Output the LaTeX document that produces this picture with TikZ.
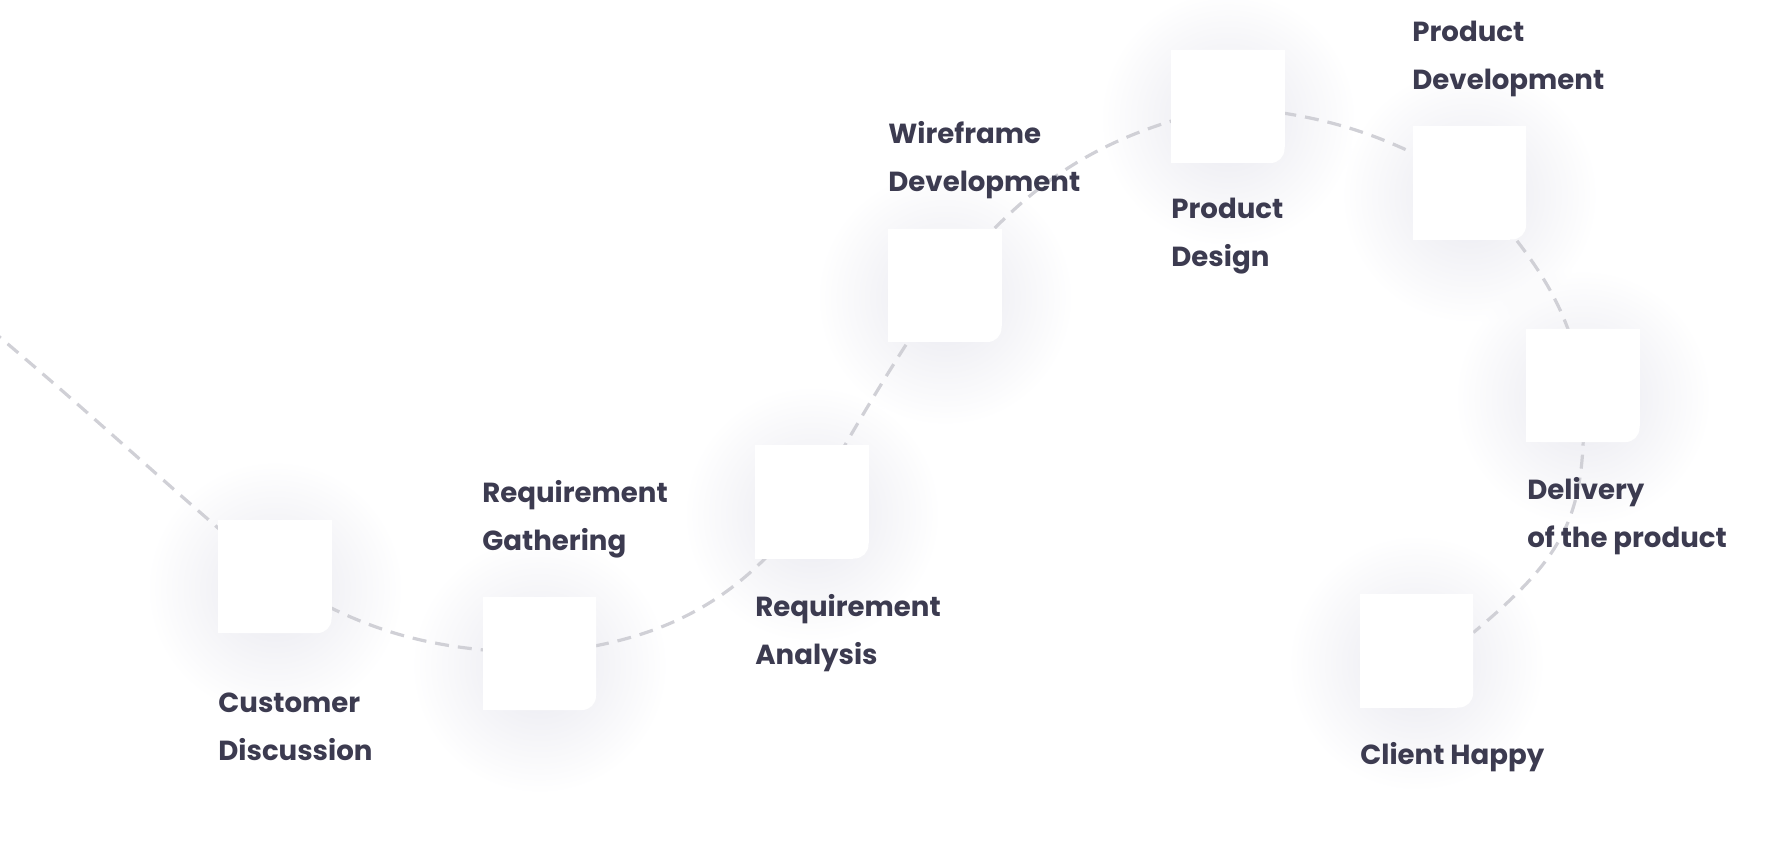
\documentclass[tikz,border=0pt]{standalone}
\usepackage{fontspec}
\setmainfont{Poppins}
\usetikzlibrary{fadings}
\definecolor{inkc}{RGB}{60,59,80}
\definecolor{trailc}{RGB}{208,208,214}
\definecolor{glowc}{RGB}{232,232,239}
\tikzfading[name=glowfade, inner color=transparent!0, outer color=transparent!100]
\pgfdeclarelayer{glowlayer}
\pgfdeclarelayer{traillayer}
\pgfsetlayers{glowlayer,traillayer,main}

\begin{document}
\begin{tikzpicture}[x=0.5pt, y=0.5pt,
		stepbox/.style={rectangle, fill=white, rounded corners=7pt, minimum size=56.5pt, inner sep=0pt},
		lbl/.style={font=\bfseries\fontsize{13.8}{24}\selectfont, text=inkc, align=left, inner sep=0pt, anchor=base west},
		trailline/.style={draw=trailc, line width=1.6pt, dash pattern=on 7pt off 4.5pt}]
		\useasboundingbox (0,0) rectangle (1789,-866);
		\coordinate (start) at (-10,-329);
		\node[stepbox] (cust) at (275,-576.5) {};
		\node[stepbox] (gath) at (539.5,-653.5) {};
		\node[stepbox] (anal) at (812,-502) {};
		\node[stepbox] (wire) at (945,-285.5) {};
		\node[stepbox] (desg) at (1228,-106.5) {};
		\node[stepbox] (pdev) at (1469.5,-183) {};
		\node[stepbox] (deli) at (1583,-385.5) {};
		\node[stepbox] (happy) at (1416.5,-651) {};
		% only the lower right corner stays round
		\foreach \b in {cust,gath,anal,wire,desg,pdev,deli,happy} {
			\fill[white] (\b.north west) rectangle ([xshift=-8pt]\b.south east);
			\fill[white] (\b.north west) rectangle ([yshift=8pt]\b.south east);
		}
		
		% labels sit on the baseline of their last line
		\node[lbl] (custlbl) at (218,-760) {Customer\\Discussion};
		\node[lbl] (gathlbl) at (482,-550) {Requirement\\Gathering};
		\node[lbl] (anallbl) at (755,-664) {Requirement\\Analysis};
		\node[lbl] (wirelbl) at (888,-192) {Wireframe\\Development};
		\node[lbl] (desglbl) at (1171,-267) {Product\\Design};
		\node[lbl] (pdevlbl) at (1412,-90) {Product\\Development};
		\node[lbl] (delilbl) at (1527,-547) {Delivery\\of the product};
		\node[lbl] (happylbl) at (1360,-764) {Client Happy};
		
		\begin{pgfonlayer}{glowlayer}
			\foreach \b in {cust,gath,anal,wire,desg,pdev,deli,happy}
				\fill[glowc, path fading=glowfade] ([yshift=-6pt]\b.center) circle (128);
		\end{pgfonlayer}
		
		\begin{pgfonlayer}{traillayer}
			\draw[trailline] (start) to[out=-40, in=140] (cust.center)
				to[out=-32, in=178] (gath.center)
				to[out=5, in=235] (anal.center)
				to[out=60, in=236] (wire.center)
				to[out=52, in=192] (desg.center)
				to[out=-5, in=150] (pdev.center)
				to[out=-50, in=100] (deli.center)
				to[out=-88, in=40, looseness=1.2] (happy.18);
		\end{pgfonlayer}
	\end{tikzpicture}
\end{document}
